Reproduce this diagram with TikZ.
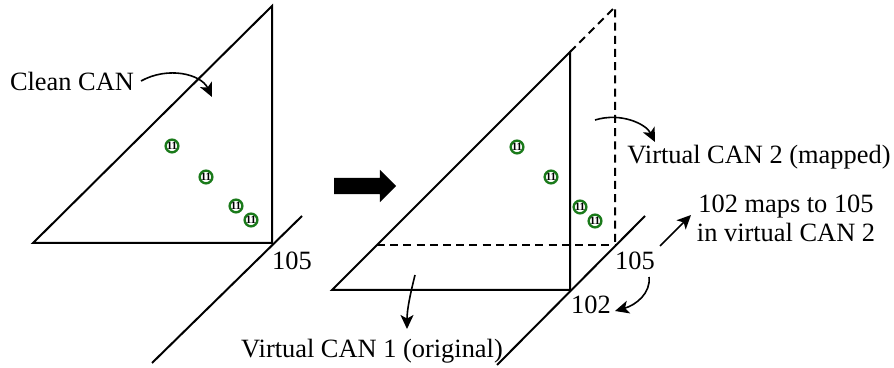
\documentclass[tikz,border=0pt]{standalone}
\usepackage{fontspec}
\setmainfont{Liberation Serif}
\usetikzlibrary{positioning, arrows.meta, shapes.arrows}
\definecolor{DotGreen}{HTML}{1A7A1A}

\begin{document}
\begin{tikzpicture}[x=0.5pt, y=-0.5pt,
    every node/.style={font=\fontsize{13.2}{14.5}\selectfont},
    edge/.style={line width=1pt},
    ghost/.style={line width=1pt, dash pattern=on 4pt off 2.6pt},
    dot/.style={circle, draw=DotGreen, line width=1.2pt, minimum size=6.2pt,
                inner sep=0pt, font=\fontsize{5.5}{5.5}\selectfont\bfseries},
    arr/.style={-{Stealth[length=7pt, width=6.5pt, inset=1.8pt]}, line width=0.8pt},
    bigarrow/.style={single arrow, fill=black, draw=none, inner xsep=0pt,
                     inner ysep=3.9pt, minimum height=31pt,
                     single arrow head extend=4pt},
  ]
    \useasboundingbox (0,0) rectangle (894,368);

    % clean CAN plane
    \coordinate (lA) at (33,243);
    \coordinate (lB) at (272,243);
    \coordinate (lC) at (272,6);
    \draw[edge] (lA) -- (lB) -- (lC) -- cycle;
    \coordinate (lax1) at (152,363);
    \coordinate (lax2) at (302,216);
    \draw[edge] (lax1) -- (lax2);
    \node (l105) at (292,261) {105};
    \node (clean) at (72,81) {Clean CAN};
    \coordinate (cleanhead) at (212,97);
    \draw[arr] (clean.east) .. controls (168,66) and (201,74) .. (cleanhead);

    \node[dot] (d1) at (172,146) {11};
    \node[dot] (d2) at (206,177) {11};
    \node[dot] (d3) at (236,206) {11};
    \node[dot] (d4) at (251,220) {11};

    % transition
    \node[bigarrow] (go) at (361,186) {};

    % virtual CAN planes
    \coordinate (mA) at (332,290);
    \coordinate (mB) at (570,290);
    \coordinate (mC) at (570,52);
    \coordinate (mD) at (377,245);
    \coordinate (mE) at (615,245);
    \coordinate (mF) at (615,7);
    \draw[edge] (mA) -- (mB) -- (mC) -- cycle;
    \draw[ghost] (mC) -- (mF) -- (mE);
    \draw[ghost] (mD) -- (mE);
    \coordinate (rax1) at (497,365);
    \coordinate (rax2) at (645,216);
    \draw[edge] (rax1) -- (rax2);

    \node[dot] (e1) at (517,147) {11};
    \node[dot] (e2) at (551,177) {11};
    \node[dot] (e3) at (580,207) {11};
    \node[dot] (e4) at (595,221) {11};

    \node (r105) at (635,261) {105};
    \node (r102) at (591,305) {102};
    \node (vcan1) at (372,351) {Virtual CAN 1 (original)};
    \node (vcan2) at (759,157) {Virtual CAN 2 (mapped)};
    \node[align=center] (maps) at (786,218) {102 maps to 105\\ in virtual CAN 2};

    \coordinate (v1tail) at (415,275);
    \coordinate (v1head) at (407,329);
    \draw[arr] (v1tail) .. controls (410,295) and (407,310) .. (v1head);
    \coordinate (v2tail) at (595,120);
    \coordinate (v2head) at (655,142);
    \draw[arr] (v2tail) .. controls (621,112) and (646,124) .. (v2head);
    \coordinate (mtail) at (660,246);
    \coordinate (mhead) at (691,215);
    \draw[arr] (mtail) -- (mhead);
    \coordinate (btail) at (649,277);
    \coordinate (bhead) at (615,311);
    \draw[arr] (btail) .. controls (651,293) and (636,305) .. (bhead);
\end{tikzpicture}
\end{document}
